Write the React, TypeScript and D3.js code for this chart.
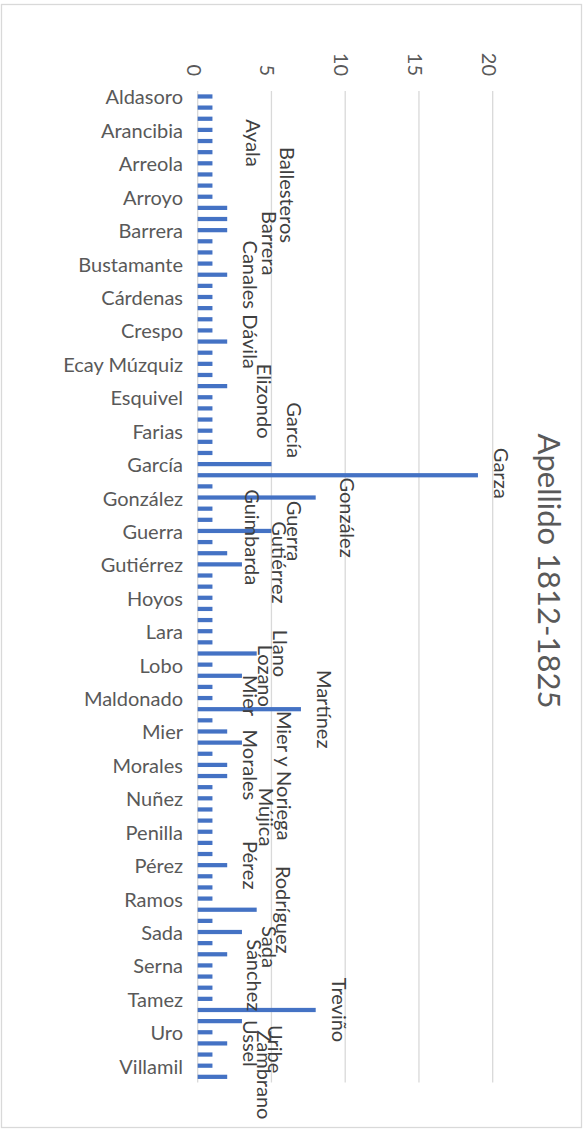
import { useEffect, useRef } from 'react';
import { select, scaleBand, scaleLinear } from 'd3';

// apellidos en el orden del eje (alfabético)
const apellidos = [
  'Aldasoro', 'Alanís', 'Alcalá', 'Arancibia', 'Arizpe', 'Arredondo',
  'Arreola', 'Arriaga', 'Arrieta', 'Arroyo', 'Ayala', 'Ballesteros',
  'Barrera', 'Benavides', 'Bermea', 'Bustamante', 'Canales', 'Cantú',
  'Cárdenas', 'Cavazos', 'Cepeda', 'Crespo', 'Dávila', 'De la Garza',
  'Ecay Múzquiz', 'Elías', 'Elizondo', 'Esquivel', 'Estrada', 'Fajardo',
  'Farias', 'Flores', 'Galindo', 'García', 'Garza', 'Gómez',
  'González', 'Gracia', 'Guajardo', 'Guerra', 'Guevara', 'Guimbarda',
  'Gutiérrez', 'Hernández', 'Hinojosa', 'Hoyos', 'Ibarra', 'Lambretón',
  'Lara', 'Leal', 'Llano', 'Lobo', 'Lozano', 'Luna',
  'Maldonado', 'Martínez', 'Mendiola', 'Mier', 'Mier y Noriega', 'Montemayor',
  'Morales', 'Mújica', 'Navarro', 'Nuñez', 'Ochoa', 'Padilla',
  'Penilla', 'Peña', 'Peñuelas', 'Pérez', 'Quintanilla', 'Rada',
  'Ramos', 'Rodríguez', 'Ruiz', 'Sada', 'Salinas', 'Sánchez',
  'Serna', 'Sierra', 'Solís', 'Tamez', 'Treviño', 'Uribe',
  'Uro', 'Ussel', 'Valdés', 'Villamil', 'Zambrano',
];

const frecuencias = [
  1, 1, 1, 1, 1, 1,
  1, 1, 1, 1, 2, 2,
  2, 1, 1, 1, 2, 1,
  1, 1, 1, 1, 2, 1,
  1, 1, 2, 1, 1, 1,
  1, 1, 1, 5, 19, 1,
  8, 1, 1, 5, 1, 2,
  3, 1, 1, 1, 1, 1,
  1, 1, 4, 1, 3, 1,
  1, 7, 1, 2, 3, 1,
  2, 2, 1, 1, 1, 1,
  1, 1, 1, 2, 1, 1,
  1, 4, 1, 3, 1, 2,
  1, 1, 1, 1, 8, 3,
  1, 2, 1, 1, 2,
];

const valorTicks = [0, 5, 10, 15, 20];
const titulo = 'Apellido 1812-1825';

// etiquetas que Excel dejó corridas para no encimarse (px: hacia la derecha, hacia abajo)
const ajusteEtiquetas: Record<string, [number, number]> = {
  Ayala: [3, -65],
  Ballesteros: [37, -24],
  Barrera: [19, 13],
  Elizondo: [14, 15],
  García: [0, -34],
  Garza: [0, -2],
  González: [8, 20],
  Guimbarda: [2, -16],
  Gutiérrez: [14, -2],
  Mier: [0, -36],
  'Mier y Noriega': [19, 33],
  Mújica: [16, 41],
  Rodríguez: [3, 0],
  Sada: [4, 15],
  Sánchez: [4, 21],
  Uribe: [10, 28],
  Zambrano: [14, -2],
};

const width = 585;
const height = 1132;
const plot = { left: 197.7, right: 492.7, top: 90.9, bottom: 1082.4 };
const FONT = 'Lato, "Open Sans", sans-serif';
const GRIS = '#595959';
const AZUL = '#4472C4';
const LINEA = '#d9d9d9';

const App = () => {
  const svgRef = useRef<SVGSVGElement>(null);

  useEffect(() => {
    if (!svgRef.current) return;
    const svg = select(svgRef.current);
    svg.selectAll('*').remove();

    const x = scaleLinear().domain([0, 20]).range([plot.left, plot.right]);
    const y = scaleBand<string>()
      .domain(apellidos)
      .range([plot.top, plot.bottom])
      .paddingInner(0.62)
      .paddingOuter(0.31);
    const bw = y.bandwidth();
    const centro = (n: string) => (y(n) as number) + bw / 2;

    svg
      .append('rect')
      .attr('x', 1.5)
      .attr('y', 4.5)
      .attr('width', 580)
      .attr('height', 1123)
      .attr('fill', '#fff')
      .attr('stroke', LINEA)
      .attr('stroke-width', 1.3);

    // líneas de cuadrícula
    svg
      .append('g')
      .selectAll('line')
      .data(valorTicks)
      .join('line')
      .attr('x1', (d) => x(d))
      .attr('x2', (d) => x(d))
      .attr('y1', plot.top)
      .attr('y2', plot.bottom)
      .attr('stroke', LINEA)
      .attr('stroke-width', 1.3);

    svg
      .append('g')
      .selectAll('text')
      .data(valorTicks)
      .join('text')
      .attr('transform', (d) => `translate(${x(d) - 3},76) rotate(90)`)
      .attr('text-anchor', 'end')
      .attr('dominant-baseline', 'central')
      .attr('font-family', FONT)
      .attr('font-size', 20)
      .attr('fill', GRIS)
      .text((d) => d);

    // barras
    svg
      .append('g')
      .selectAll('rect')
      .data(apellidos)
      .join('rect')
      .attr('x', x(0))
      .attr('y', (d) => y(d) as number)
      .attr('width', (d, i) => x(frecuencias[i]) - x(0))
      .attr('height', bw)
      .attr('fill', AZUL);

    // eje de categorías (una etiqueta cada tres)
    svg
      .append('g')
      .selectAll('text')
      .data(apellidos.filter((_, i) => i % 3 === 0))
      .join('text')
      .attr('x', 183)
      .attr('y', (d) => centro(d))
      .attr('text-anchor', 'end')
      .attr('dominant-baseline', 'central')
      .attr('font-family', FONT)
      .attr('font-size', 20)
      .attr('fill', GRIS)
      .text((d) => d);

    // etiquetas de datos con el nombre
    const conEtiqueta = apellidos
      .map((n, i) => ({ n, v: frecuencias[i] }))
      .filter((d) => d.v >= 2);
    svg
      .append('g')
      .selectAll('text')
      .data(conEtiqueta)
      .join('text')
      .attr('transform', (d) => {
        const [dx, dy] = ajusteEtiquetas[d.n] || [0, 0];
        return `translate(${x(d.v) + 16 + dx},${centro(d.n) + dy}) rotate(90)`;
      })
      .attr('text-anchor', 'middle')
      .attr('font-family', FONT)
      .attr('font-size', 20)
      .attr('fill', '#404040')
      .text((d) => d.n);

    svg
      .append('text')
      .attr('transform', 'translate(538,571) rotate(90)')
      .attr('text-anchor', 'middle')
      .attr('font-family', FONT)
      .attr('font-size', 31)
      .attr('fill', GRIS)
      .text(titulo);
  }, []);

  return (
    <svg
      ref={svgRef}
      width={width}
      height={height}
      style={{ position: 'absolute', left: 0, top: 0 }}
    />
  );
};

export default App;
